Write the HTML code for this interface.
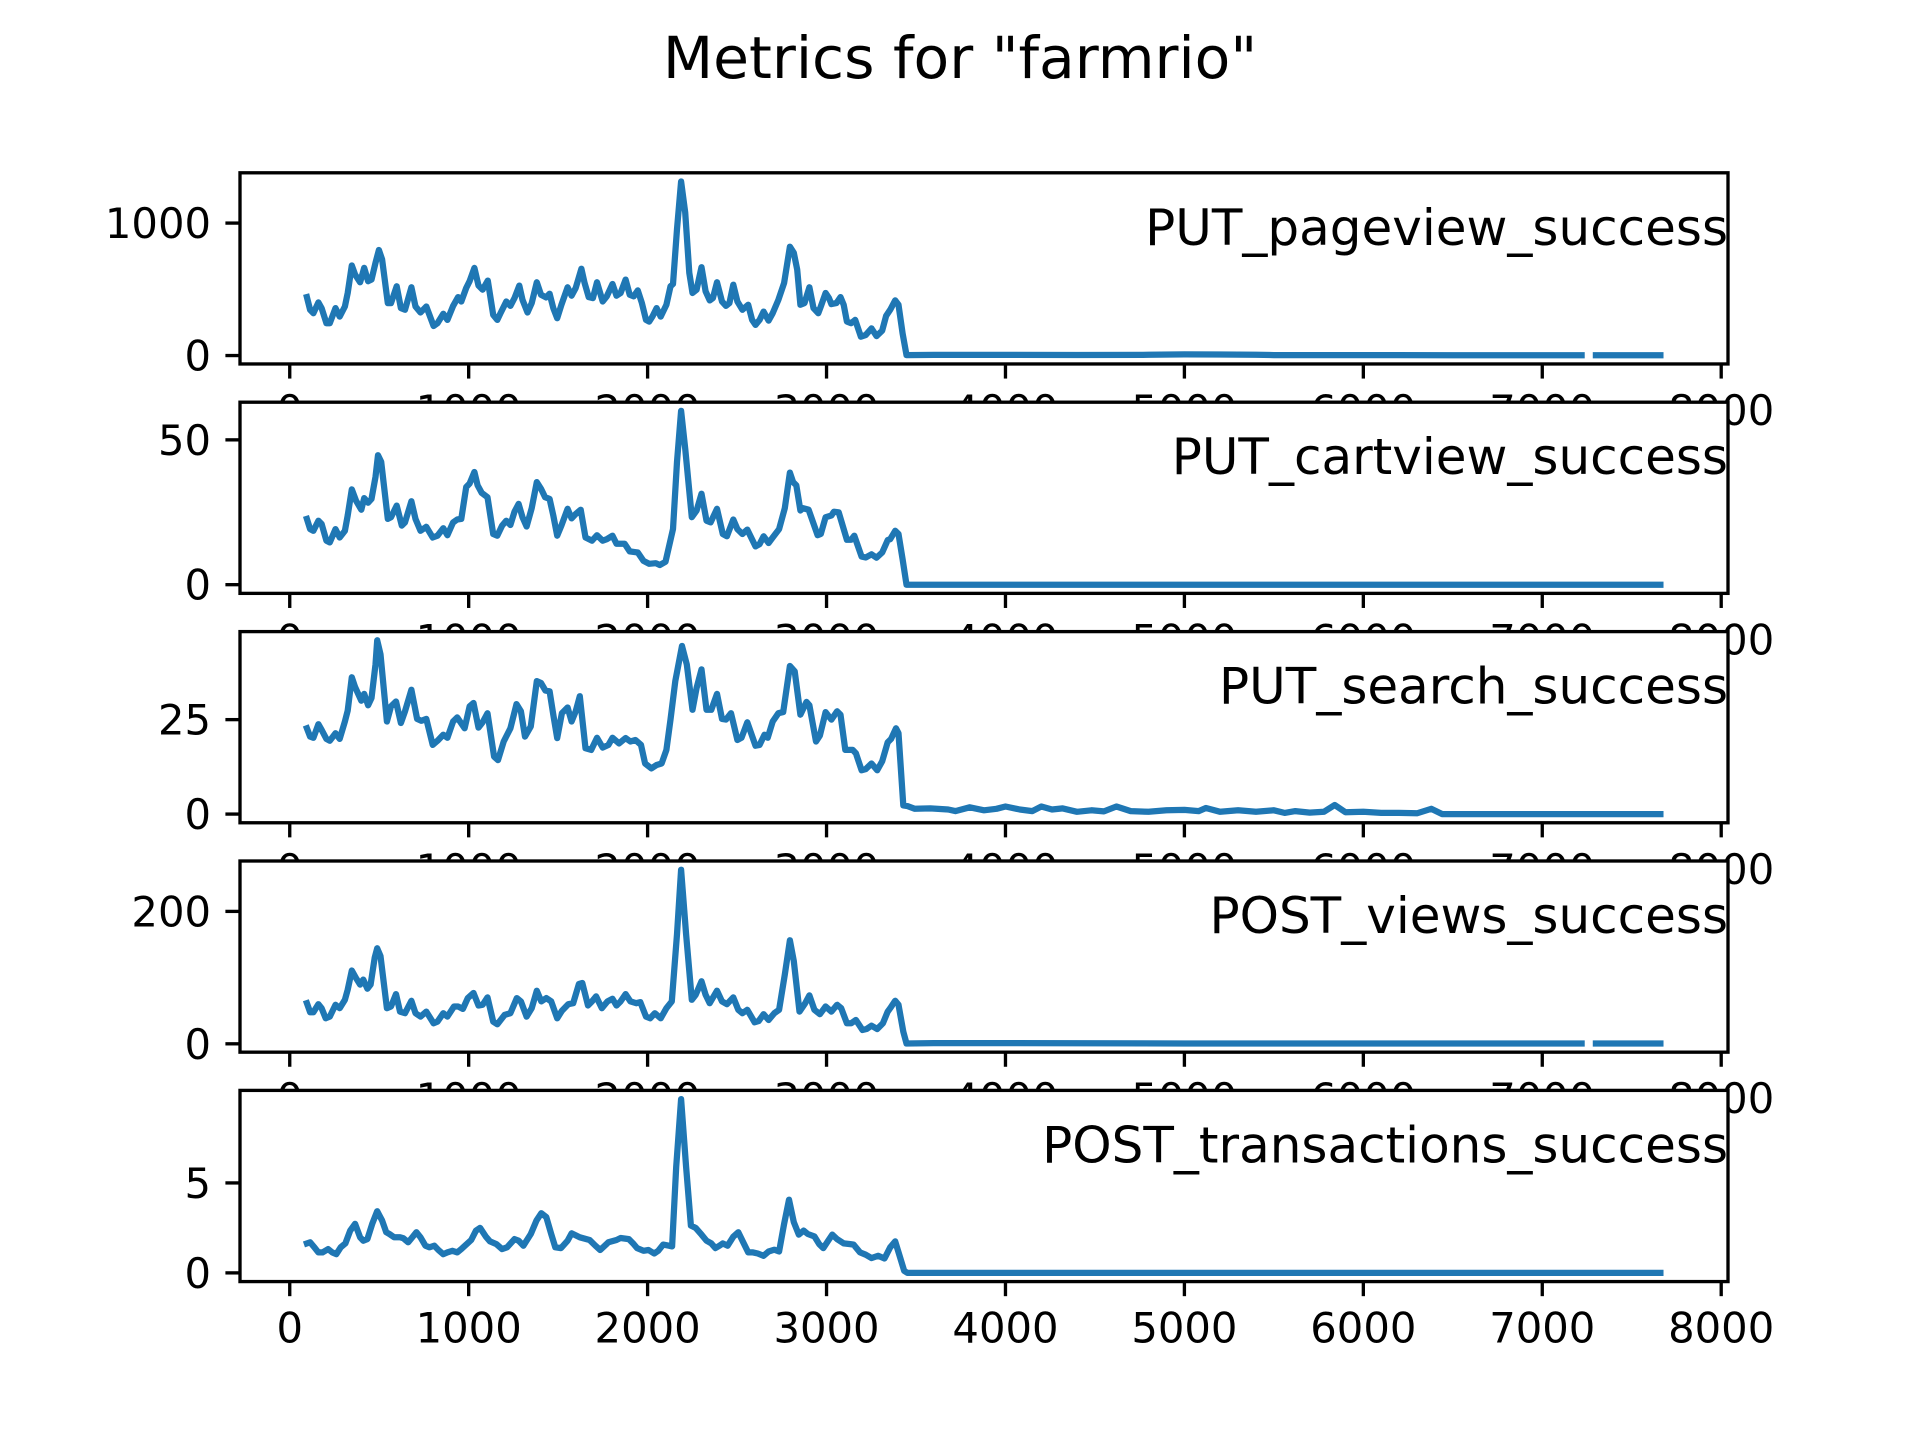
<!DOCTYPE html>
<html><head><meta charset="utf-8"><style>
html,body{margin:0;padding:0;background:#fff;}
svg{display:block;font-family:"DejaVu Sans","Liberation Sans",sans-serif;}
</style></head><body>
<svg id="fig" width="1920" height="1440" viewBox="0 0 1920 1440" xmlns="http://www.w3.org/2000/svg">
<rect x="0" y="0" width="1920" height="1440" fill="#fff"/>
<text x="960" y="78" text-anchor="middle" font-size="58.3" fill="#000">Metrics for "farmrio"</text>
</svg>
<script>
const panelNames = ["PUT_pageview_success","PUT_cartview_success","PUT_search_success","POST_views_success","POST_transactions_success"];
const yTicks = [[0,1000],[0,50],[0,25],[0,200],[0,5]];
const xTicks = [0,1000,2000,3000,4000,5000,6000,7000,8000];

const x1 = [96,114,132,160,178,205,224,256,279,308,324,347,365,393,416,438,457,479,498,516,548,566,598,621,644,680,703,731,763,804,826,858,881,913,941,959,986,1005,1032,1055,1078,1107,1137,1160,1178,1210,1233,1256,1283,1301,1329,1352,1381,1404,1432,1452,1473,1495,1518,1553,1575,1598,1630,1648,1671,1694,1717,1749,1772,1804,1826,1849,1877,1900,1922,1945,1968,1991,2009,2027,2050,2073,2105,2128,2142,2164,2187,2210,2233,2251,2274,2301,2324,2347,2365,2388,2416,2438,2457,2479,2502,2530,2562,2584,2603,2626,2648,2676,2699,2731,2763,2795,2817,2836,2854,2877,2904,2927,2954,2968,2995,3014,3027,3055,3078,3096,3114,3137,3160,3192,3219,3251,3279,3311,3333,3356,3384,3402,3425,3447,
3600,4000,4400,4800,5000,5200,5400,5500,6000,6500,7000,7220,7260,7300,7660];
const v1 = [441,345,320,401,358,244,244,358,294,370,472,680,611,553,662,561,573,700,797,726,396,396,523,358,345,515,370,325,370,223,244,315,269,375,441,408,510,561,662,528,497,566,307,269,320,408,375,434,528,421,325,396,553,459,439,467,358,282,383,515,452,510,655,548,441,434,553,408,447,540,452,472,573,459,447,492,396,269,256,294,358,294,383,523,540,954,1314,1081,624,472,497,667,485,416,434,553,408,375,396,535,408,345,383,269,231,269,332,264,320,421,548,822,776,649,383,396,515,358,320,370,472,434,388,396,441,383,256,244,269,142,155,205,147,188,299,345,416,383,167,3,
5,5,4,6,9,8,6,3,3,2,2,2,NaN,2,2];

const x2 = [96,114,132,160,178,205,224,256,279,308,324,347,370,400,416,438,457,479,493,511,548,566,598,626,644,680,703,731,763,799,826,858,881,913,936,959,986,1005,1032,1050,1073,1105,1137,1160,1187,1210,1233,1256,1279,1301,1324,1352,1381,1404,1427,1452,1473,1495,1518,1553,1575,1598,1626,1653,1689,1717,1749,1772,1804,1826,1872,1900,1945,1977,2009,2046,2068,2100,2142,2164,2187,2210,2247,2274,2301,2329,2352,2388,2420,2443,2479,2502,2530,2557,2603,2626,2648,2676,2699,2735,2767,2795,2813,2831,2854,2868,2900,2950,2968,2995,3027,3041,3068,3114,3137,3155,3196,3219,3251,3279,3311,3342,3356,3384,3402,3425,3447,3600,7660];
const v2 = [22.7,19.2,18.6,22.1,21.0,15.2,14.6,19.2,16.3,18.6,23.9,32.9,29.1,25.9,29.9,28.3,29.6,37.2,44.7,42.4,22.7,23.3,27.3,20.4,21.5,28.8,22.7,18.6,20.0,16.3,16.9,19.5,17.1,21.5,22.5,22.7,33.7,34.9,38.9,34.3,31.7,30.2,17.5,16.9,20.4,22.1,20.6,25.2,27.9,23.3,20.1,26.4,35.4,33.1,30.2,29.6,23.9,16.9,20.4,26.2,22.9,24.4,25.9,16.3,15.2,17.1,15.2,15.7,16.9,14.1,14.1,11.5,11.1,8.2,7.2,7.4,6.8,7.9,19.2,42.4,60,47.0,23.3,25.6,31.4,22.1,21.5,26.2,17.5,16.7,22.5,19.2,17.5,19.0,13.2,14.0,16.7,14.4,16.3,19.2,26.4,38.7,35.4,34.3,25.6,26.4,25.9,17.1,17.5,23.3,23.9,25.2,25.0,15.5,15.5,16.9,9.7,9.4,10.5,9.3,11.1,15.4,15.7,18.6,17.5,8.8,0,0,0];

const x3 = [96,114,132,160,178,205,224,256,279,308,324,347,365,400,416,438,457,479,489,507,543,566,594,621,644,680,712,735,763,799,826,858,881,913,936,977,1005,1027,1055,1078,1105,1142,1164,1196,1233,1267,1292,1315,1347,1381,1404,1429,1452,1473,1495,1521,1553,1575,1598,1621,1653,1685,1717,1749,1781,1804,1840,1877,1904,1932,1963,1986,2021,2050,2078,2105,2128,2155,2192,2219,2251,2274,2301,2329,2356,2388,2416,2438,2466,2502,2525,2557,2603,2626,2653,2671,2699,2731,2758,2795,2822,2854,2888,2904,2941,2963,2995,3027,3059,3078,3105,3146,3164,3196,3219,3251,3283,3311,3342,3361,3388,3402,3429,3452,3493,3580,
3680,3720,3800,3880,3950,4000,4080,4150,4200,4260,4320,4400,4480,4550,4620,4700,4800,4900,5000,5080,5120,5200,5300,5400,5500,5560,5620,5700,5780,5840,5900,6000,6100,6200,6300,6380,6440,7660];
const v3 = [22.7,20.5,20.2,23.8,22.3,19.9,19.4,21.4,19.9,24.5,27.4,36.2,33.6,30.0,31.8,28.8,30.7,39.6,46.0,42.3,24.5,28.5,29.8,24.1,27.2,32.9,25.2,24.7,25.2,18.3,19.4,21.0,20.2,24.5,25.6,22.7,28.5,29.4,22.9,24.3,26.7,15.2,14.3,19.2,22.7,29.1,27.2,20.5,23.2,35.2,34.7,32.7,32.5,26.3,20.1,26.7,28.2,24.5,27.2,31.2,17.4,17.0,20.2,17.6,18.3,20.2,18.7,20.1,19.2,19.6,18.3,13.4,12.1,13.0,13.4,17.0,25.0,35.2,44.5,39.6,27.6,33.4,38.3,27.6,27.6,31.8,25.2,25.0,26.7,19.6,20.2,24.3,18.1,18.3,21.0,20.2,24.5,26.7,27.0,39.2,37.8,26.3,29.7,28.8,19.2,20.8,27.0,25.0,27.2,26.3,17.0,17.0,16.1,11.6,11.9,13.4,11.6,14.0,19.0,19.9,22.7,21.4,2.3,2.1,1.4,1.5,
1.2,0.8,1.8,1.0,1.4,2.0,1.2,0.8,2.0,1.2,1.5,0.6,1.0,0.7,2.0,0.8,0.6,1.0,1.1,0.8,1.6,0.6,1.0,0.6,1.0,0.3,0.8,0.4,0.6,2.4,0.5,0.6,0.3,0.3,0.2,1.4,0,0];

const x4 = [96,114,132,160,178,201,224,256,279,308,324,347,370,393,411,434,452,475,489,507,543,566,594,616,644,680,703,731,763,804,826,858,881,918,941,968,995,1027,1055,1078,1105,1137,1160,1201,1233,1269,1292,1324,1352,1381,1406,1434,1461,1495,1521,1557,1584,1616,1635,1667,1689,1712,1744,1776,1804,1826,1849,1877,1904,1936,1959,1991,2014,2041,2073,2105,2135,2164,2187,2215,2247,2269,2301,2324,2347,2388,2416,2443,2479,2507,2530,2557,2598,2621,2648,2676,2708,2735,2767,2795,2817,2849,2881,2904,2932,2963,2995,3027,3059,3082,3114,3137,3164,3201,3224,3251,3283,3315,3342,3356,3384,3402,3429,3447,
3600,4000,5000,6000,7220,7260,7300,7660];
const v4 = [61.4,47.7,47.7,59.9,53.8,38.6,41.1,58.9,53.8,66.5,81.7,110.7,99.5,89.4,97.0,83.3,89.4,130.0,144.2,132.5,53.8,56.4,75.1,48.7,46.2,65.0,46.2,41.1,48.7,31.0,33.5,46.2,41.1,56.4,56.4,52.8,69.0,76.7,57.9,58.9,70.1,33.5,29.4,43.7,46.2,69.0,64.0,41.1,53.8,80.2,64.0,69.0,64.0,38.6,49.8,59.9,61.4,90.4,91.9,57.9,64.0,71.6,53.8,64.0,68.0,57.9,64.0,75.1,64.0,61.4,63.0,41.1,38.6,46.2,38.6,53.8,64.0,165.5,263,165.5,66.5,74.1,94.4,74.1,61.4,80.2,64.0,59.9,70.1,51.3,46.2,51.3,32.5,34.5,44.7,36.0,46.2,51.3,104.6,156.4,124.9,48.7,61.4,73.1,51.3,44.7,56.4,48.7,58.9,53.8,31.0,31.0,36.0,20.8,22.3,27.4,22.3,31.0,48.7,53.8,65.0,58.9,18.3,0.5,
1,1,0.5,0.5,0.5,NaN,0.5,0.5];

const x5 = [96,114,137,160,183,215,237,260,285,311,338,365,393,411,434,461,489,516,539,557,584,616,635,662,685,708,731,758,781,808,831,858,881,909,936,959,986,1014,1041,1064,1096,1119,1155,1187,1215,1256,1279,1306,1347,1379,1406,1434,1461,1484,1516,1553,1575,1621,1676,1708,1735,1781,1826,1849,1895,1922,1941,1977,2005,2037,2059,2087,2119,2137,2160,2187,2215,2242,2269,2301,2329,2356,2379,2402,2420,2447,2479,2507,2534,2562,2589,2616,2648,2676,2708,2735,2763,2790,2817,2845,2872,2895,2932,2959,2982,3009,3032,3059,3096,3132,3151,3187,3219,3251,3288,3324,3356,3384,3411,3434,3452,7660];
const v5 = [1.64,1.70,1.42,1.14,1.14,1.32,1.14,1.04,1.42,1.64,2.35,2.72,1.98,1.79,1.88,2.72,3.43,2.91,2.26,2.16,1.98,1.98,1.92,1.70,1.98,2.26,1.98,1.51,1.42,1.51,1.27,1.04,1.14,1.23,1.14,1.32,1.57,1.83,2.35,2.50,2.01,1.75,1.60,1.32,1.42,1.88,1.79,1.51,2.16,2.91,3.32,3.10,2.16,1.42,1.38,1.79,2.20,1.98,1.83,1.51,1.27,1.70,1.83,1.94,1.88,1.60,1.38,1.23,1.27,1.08,1.23,1.57,1.51,1.47,5.89,9.66,5.89,2.63,2.50,2.13,1.79,1.64,1.38,1.51,1.64,1.51,2.01,2.26,1.70,1.14,1.14,1.08,0.95,1.19,1.29,1.19,2.72,4.07,2.82,2.13,2.35,2.16,2.03,1.60,1.38,1.79,2.13,1.88,1.64,1.60,1.57,1.14,1.01,0.82,0.95,0.80,1.42,1.75,0.86,0.11,0,0];

const seriesX = [x1,x2,x3,x4,x5];
const seriesV = [v1,v2,v3,v4,v5];

const NS = "http://www.w3.org/2000/svg";
const svg = document.getElementById("fig");
const L = 240, R = 1728, TOP = 172.8, H = 191.17, GAP = 38.23;
const XMIN = -278, XMAX = 8038;
function xScale(x){ return L + (x - XMIN) / (XMAX - XMIN) * (R - L); }
function mk(tag, attrs){ const e = document.createElementNS(NS, tag); for (const k in attrs) e.setAttribute(k, attrs[k]); return e; }

for (let p = 0; p < 5; p++) {
  const top = TOP + p * (H + GAP), bot = top + H;
  const xs = seriesX[p], vs = seriesV[p];
  const n = Math.min(xs.length, vs.length);
  let mn = Infinity, mx = -Infinity;
  for (let i = 0; i < n; i++) { if (!isNaN(vs[i])) { mn = Math.min(mn, vs[i]); mx = Math.max(mx, vs[i]); } }
  const r = mx - mn, y0 = mn - 0.05 * r, y1 = mx + 0.05 * r;
  const yScale = v => bot - (v - y0) / (y1 - y0) * H;

  const g = mk("g", {});
  
  
  svg.appendChild(g);

  const bg = mk("rect", {x: L, y: top, width: R - L, height: H, fill: "#fff"});
  
  
  g.appendChild(bg);

  let d = "", pen = false;
  for (let i = 0; i < n; i++) {
    if (isNaN(vs[i])) { pen = false; continue; }
    d += (pen ? "L" : "M") + xScale(xs[i]).toFixed(1) + " " + yScale(vs[i]).toFixed(1);
    pen = true;
  }
  const line = mk("path", {d: d, fill: "none", stroke: "#1f77b4", "stroke-width": 6.25, "stroke-linejoin": "round", "stroke-linecap": "square"});
  
  
  g.appendChild(line);

  const frame = mk("rect", {x: L, y: top, width: R - L, height: H, fill: "none", stroke: "#000", "stroke-width": 3.33});
  
  
  g.appendChild(frame);

  yTicks[p].forEach(t => {
    const yy = yScale(t);
    const tk = mk("line", {x1: L, x2: L - 14.6, y1: yy, y2: yy, stroke: "#000", "stroke-width": 3.33});
    
    
    g.appendChild(tk);
    const lb = mk("text", {x: L - 29, y: yy + 15, "text-anchor": "end", "font-size": 41.7, fill: "#000"});
    lb.textContent = String(t);
    
    
    g.appendChild(lb);
  });
  xTicks.forEach(t => {
    const xx = xScale(t);
    const tk = mk("line", {x1: xx, x2: xx, y1: bot, y2: bot + 14.6, stroke: "#000", "stroke-width": 3.33});
    
    
    g.appendChild(tk);
    const lb = mk("text", {x: xx, y: bot + 61, "text-anchor": "middle", "font-size": 41.7, fill: "#000"});
    lb.textContent = String(t);
    
    
    g.appendChild(lb);
  });
  const title = mk("text", {x: R, y: top + 72, "text-anchor": "end", "font-size": 50, fill: "#000"});
  title.textContent = panelNames[p];
  
  
  g.appendChild(title);
}
</script>
</body></html>
